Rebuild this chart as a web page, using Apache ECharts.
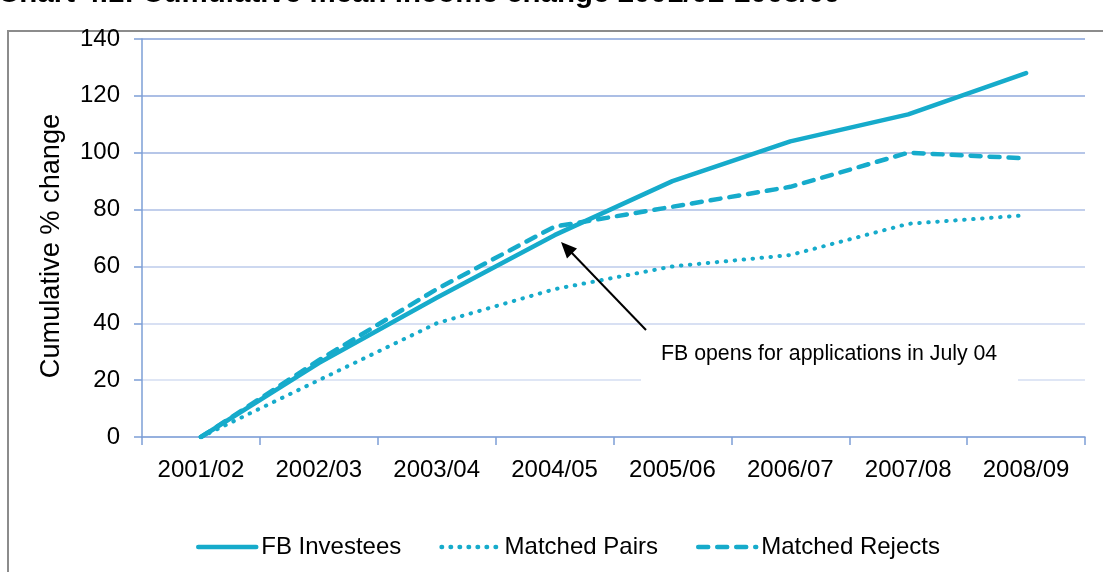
<!DOCTYPE html>
<html>
<head>
<meta charset="utf-8">
<script src="https://cdn.jsdelivr.net/npm/echarts@6/dist/echarts.min.js"></script>
<style>
html,body{margin:0;padding:0;background:#fff;}
#c{width:1103px;height:572px;}
</style>
</head>
<body>
<div id="c"></div>
<script>
const categories = ['2001/02','2002/03','2003/04','2004/05','2005/06','2006/07','2007/08','2008/09'];
const fbInvestees = [0, 26, 49, 71, 90, 104, 113.5, 128];
const matchedPairs = [0, 20, 40, 52, 60, 64, 75, 78];
const matchedRejects = [0, 27, 52, 74, 81, 88, 100, 98];
const yTicks = [0, 140, 20];
const titleText = 'Chart 4.1: Cumulative mean income change 2001/02-2008/09';
const yAxisName = 'Cumulative % change';
const annotationText = 'FB opens for applications in July 04';

const FONT = '"Liberation Sans", Arial, sans-serif';
const LINE = '#16abcb';

const chart = echarts.init(document.getElementById('c'), null, {renderer: 'canvas'});
chart.setOption({
  animation: false,
  backgroundColor: '#fff',
  textStyle: {fontFamily: FONT},
  grid: {left: 142, right: 18, top: 39, bottom: 135, containLabel: false},
  legend: {
    left: 191, top: 530,
    itemWidth: 58, itemHeight: 14, itemGap: 38,
    itemStyle: {opacity: 0},
    lineStyle: {width: 4.5},
    textStyle: {fontSize: 24, color: '#000', fontFamily: FONT, padding: [0,0,0,0]},
    data: ['FB Investees', 'Matched Pairs', 'Matched Rejects']
  },
  xAxis: {
    type: 'category',
    data: categories,
    boundaryGap: true,
    axisLine: {lineStyle: {color: '#7d9fd6', width: 1.5}},
    axisTick: {show: true, length: 8, lineStyle: {color: '#7d9fd6', width: 1.5}},
    axisLabel: {fontSize: 24, color: '#000', margin: 21, fontFamily: FONT}
  },
  yAxis: {
    type: 'value',
    min: yTicks[0], max: yTicks[1], interval: yTicks[2],
    axisLine: {show: true, lineStyle: {color: '#7d9fd6', width: 1.5}},
    axisTick: {show: true, length: 8, lineStyle: {color: '#7d9fd6', width: 1.5}},
    axisLabel: {fontSize: 24, color: '#000', margin: 22, fontFamily: FONT},
    splitLine: {show: true, lineStyle: {width: 2, color: ['#dfe6f5','#dfe6f5','#d8e0f3','#cdd8f0','#c2cfec','#b6c6e8','#abbee5','#a4b9e3']}}
  },
  series: [
    {
      name: 'FB Investees', type: 'line', data: fbInvestees,
      symbol: 'none', showSymbol: false,
      lineStyle: {color: LINE, width: 4.5, cap: 'round', join: 'round'},
      itemStyle: {color: LINE}, z: 3
    },
    {
      name: 'Matched Pairs', type: 'line', data: matchedPairs,
      symbol: 'none', showSymbol: false,
      lineStyle: {color: LINE, width: 4, type: [0.5, 8.5], cap: 'round', join: 'round'},
      itemStyle: {color: LINE}, z: 2
    },
    {
      name: 'Matched Rejects', type: 'line', data: matchedRejects,
      symbol: 'none', showSymbol: false,
      lineStyle: {color: LINE, width: 4.5, type: [10, 9], cap: 'round', join: 'round'},
      itemStyle: {color: LINE}, z: 2
    }
  ],
  graphic: [
    {type: 'rect', z: -10, shape: {x: 8, y: 31, width: 1200, height: 700},
     style: {fill: 'none', stroke: '#8c8c8c', lineWidth: 2}},
    {type: 'text', z: 10, x: -2, y: 9,
     style: {text: titleText, font: 'bold 29.5px "Liberation Sans", Arial, sans-serif', fill: '#000', verticalAlign: 'bottom', align: 'left'}},
    {type: 'text', z: 10, x: 52, y: 246, rotation: Math.PI / 2,
     style: {text: yAxisName, font: '27.2px "Liberation Sans", Arial, sans-serif', fill: '#000', verticalAlign: 'middle', align: 'center'}},
    {type: 'rect', z: 50, shape: {x: 641, y: 336, width: 377, height: 48},
     style: {fill: '#fff'}},
    {type: 'text', z: 51, x: 661, y: 354,
     style: {text: annotationText, font: '21.3px "Liberation Sans", Arial, sans-serif', fill: '#000', verticalAlign: 'middle', align: 'left'}},
    {type: 'line', z: 52, shape: {x1: 646, y1: 330, x2: 570, y2: 251},
     style: {stroke: '#000', lineWidth: 2}},
    {type: 'polygon', z: 52, shape: {points: [[561, 242], [577, 248.6], [567, 258.4]]},
     style: {fill: '#000'}}
  ]
});
</script>
</body>
</html>
